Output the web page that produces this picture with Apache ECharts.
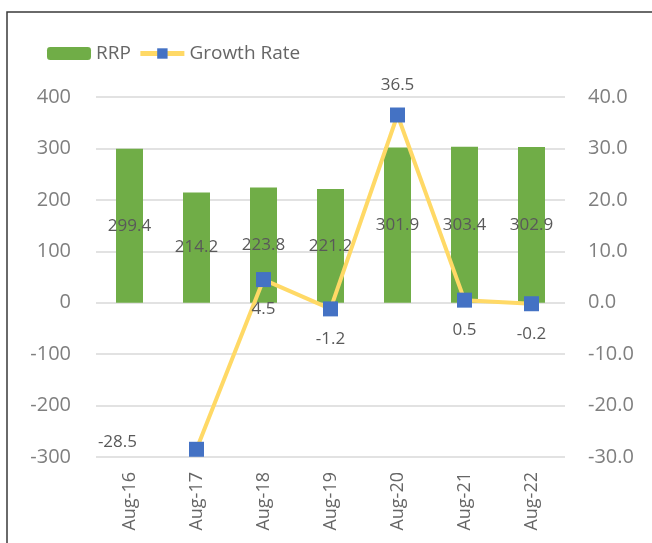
<!DOCTYPE html>
<html><head><meta charset="utf-8">
<script src="https://cdn.jsdelivr.net/npm/echarts@6/dist/echarts.min.js"></script>
<style>html,body{margin:0;padding:0;background:#fff}#c{width:652px;height:543px}</style>
</head><body><div id="c"></div>
<script>
const categories = ['Aug-16','Aug-17','Aug-18','Aug-19','Aug-20','Aug-21','Aug-22'];
const rrp = [299.4, 214.2, 223.8, 221.2, 301.9, 303.4, 302.9];
const growth = [null, -28.5, 4.5, -1.2, 36.5, 0.5, -0.2];
const leftTicks = {min: -300, max: 400, interval: 100};
const rightTicks = {min: -30, max: 40, interval: 10};

const font = 'Open Sans';
const growthData = growth.map((v, i) => {
  if (v === null) return null;
  let label = {position: 'bottom', distance: 14};
  if (v === 36.5) label = {position: 'top', distance: 14};
  if (v === -28.5) label = {position: 'left', distance: 52, offset: [0, -7]};
  return {value: v, label};
});

const chart = echarts.init(document.getElementById('c'));
chart.setOption({
  animation: false,
  textStyle: {fontFamily: font},
  graphic: [{type: 'rect', shape: {x: 7, y: 12, width: 800, height: 700},
    style: {fill: 'none', stroke: '#3a3a3a', lineWidth: 1.5}, silent: true}],
  legend: {
    left: 42, top: 39, itemGap: 7, itemWidth: 44, itemHeight: 13,
    textStyle: {fontFamily: font, fontSize: 19, color: '#666'},
    data: [{name: 'RRP'}, {name: 'Growth Rate', lineStyle: {width: 5, color: '#ffd966'},
      itemStyle: {color: '#4472c4'}}]
  },
  grid: {left: 96, right: 87, top: 97, bottom: 86, containLabel: false},
  xAxis: {
    type: 'category', data: categories,
    axisLine: {show: false}, axisTick: {show: false},
    axisLabel: {rotate: 90, fontSize: 18, color: '#666', fontFamily: font, margin: 15}
  },
  yAxis: [
    {type: 'value', min: leftTicks.min, max: leftTicks.max, interval: leftTicks.interval,
     axisLabel: {fontSize: 20, color: '#7f7f7f', fontFamily: font, margin: 25},
     splitLine: {lineStyle: {color: '#d9d9d9', width: 1.5}},
     axisLine: {show: false}, axisTick: {show: false}},
    {type: 'value', min: rightTicks.min, max: rightTicks.max, interval: rightTicks.interval,
     axisLabel: {fontSize: 20, color: '#7f7f7f', fontFamily: font, margin: 23,
       formatter: v => v.toFixed(1)},
     splitLine: {show: false}, axisLine: {show: false}, axisTick: {show: false}}
  ],
  series: [
    {name: 'RRP', type: 'bar', data: rrp, barWidth: 27, yAxisIndex: 0,
     itemStyle: {color: '#70ad47'},
     label: {show: true, position: 'inside', fontSize: 17, color: '#595959', fontFamily: font,
       formatter: p => p.value.toFixed(1)}},
    {name: 'Growth Rate', type: 'line', data: growthData, yAxisIndex: 1,
     lineStyle: {color: '#ffd966', width: 4}, itemStyle: {color: '#4472c4'},
     symbol: 'rect', symbolSize: 15, showAllSymbol: true, connectNulls: false,
     label: {show: true, fontSize: 17, color: '#595959', fontFamily: font,
       formatter: p => p.value.toFixed(1)}, z: 5}
  ]
});
</script></body></html>
